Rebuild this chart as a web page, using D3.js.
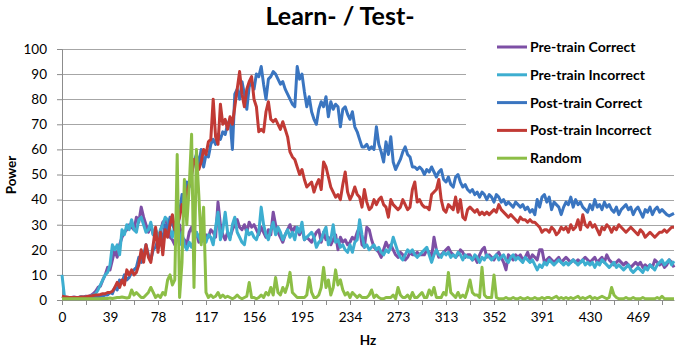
<!DOCTYPE html>
<html>
<head>
<meta charset="utf-8">
<script src="https://cdn.jsdelivr.net/npm/d3@7"></script>
<style>
body { margin: 0; background: #fff; }
svg text { font-family: Lato, "Open Sans", sans-serif; }
</style>
</head>
<body>
<div id="chart"></div>
<script>
// frequency bins (500 Hz / 256 bins), labels every 20 bins
var binCount = 256;
var xTickLabels = ["0", "39", "78", "117", "156", "195", "234", "273", "313", "352", "391", "430", "469"];
var yTickValues = [0, 10, 20, 30, 40, 50, 60, 70, 80, 90, 100];

var seriesNames = ["Pre-train Correct", "Pre-train Incorrect", "Post-train Correct", "Post-train Incorrect", "Random"];
var seriesColors = ["#7D4FA5", "#3DAED0", "#3A75C0", "#C13A35", "#8CBE46"];

var preCorrect = [
	1.5,1.2,1,1,1,1.2,1,1.1,1.3,1.2,
	1.5,1.4,1.8,2.5,3.5,5,5.5,8,10,13,
	12,16,20,17,22,25,27,28,30,29,
	28,33,31,37,33,30,27,30,26,28,
	25,27,31,32,30,25,24,22,25,30,
	25,24,22,27,29,26,27,23,28,24,
	26,25,28,27,25,39,30,26,24,27,
	25,28,30,32,29,28,30,27,31,29,
	30,28,26,29,27,25,28,26,35,30,
	27,25,23,26,28,30,27,29,28,26,
	29,24,25,24,23,25,27,28,23,27,
	24,25,22,24,26,20,25,23,24,22,
	23,25,24,27,29,22,21,29,28,24,
	21,20,19,17,20,23,21,22,20,18,
	17,19,18,16,17,19,18,18,19,18,
	18,18,20,19,17,25,20,17,18,19,
	20,21,19,18,17,18,20,19,17,18,
	18,16,17,15,18,20,21,17,18,17,
	16,18,19,17,15,12,18,17,16,18,
	17,18,16,17,19,16,18,17,16,20,
	20,15,16,17,16,15,16,17,15,16,
	17,16,15,16,15,16,15,16,17,16,
	15,16,17,15,16,17,15,18,16,15,
	14,15,16,15,14,15,14,13,14,15,
	14,15,13,14,13,14,13,16,15,14,
	15,13,14,16,15,13
];

var preIncorrect = [
	10,1.5,1,1,0.8,0.8,1,1,1.2,1,
	1.2,1.3,1.5,2,2.5,4,6,8,10,11,
	14,22,20,22,18,28,26,30,28,32,
	28,27,32,33,30,27,28,31,26,28,
	24,28,30,33,32,28,25,30,26,22,
	27,22,20,23,21,24,27,25,23,24,
	23,26,25,22,29,35,24,28,35,27,
	24,30,33,27,25,23,22,28,26,27,
	25,24,27,37,30,26,24,28,31,26,
	29,27,24,26,28,25,27,24,29,27,
	31,24,25,26,27,25,21,23,24,27,
	29,22,24,30,23,24,21,22,20,19,
	22,19,23,24,32,26,21,22,20,21,
	22,20,21,19,18,20,19,21,25,22,
	19,17,16,18,20,19,20,18,17,18,
	19,20,21,18,15,18,20,18,17,19,
	18,19,17,18,17,19,18,16,18,17,
	17,16,18,17,15,17,16,18,17,16,
	17,18,16,17,18,16,15,17,18,16,
	17,16,15,17,16,15,16,14,12,14,
	13,15,14,16,15,14,15,16,15,14,
	15,14,15,16,15,14,15,16,14,15,
	14,15,13,15,14,16,15,14,13,14,
	15,13,14,13,12,13,14,12,11,12,
	13,12,11,13,12,14,13,12,14,15,
	16,14,15,16,14,15.5
];

var postCorrect = [
	1,1,1,0.8,0.8,1,1,1,1,1,
	1,1,1,1.2,1,1.2,1.5,1.5,2,2,
	3,2.5,5,4,8,7,10,8,9,11,
	12,13,17,15,18,22,18,16,20,21,
	24,22,25,30,27,33,30,28,25,35,
	42,38,47,45,50,55,58,54,60,53,
	58,57,62,64,62,66,64,67,66,70,
	72,60,82,84,80,87,82,76,85,87,
	84,90,89,93,86,80,88,89,91,90,
	88,86,87,84,82,80,78,77,93,88,
	90,83,77,81,75,72,70,76,79,77,
	81,73,79,76,78,77,69,76,77,74,
	72,75,69,67,64,61,61,62,60,61,
	60,69,62,59,55,63,58,65,55,52,
	54,56,59,61,58,57,53,53,52,53,
	52,50,52,51,53,51,49,51,52,48,
	47,49,46,45,49,50,47,45,46,44,
	43,44,42,43,41,43,42,40,42,41,
	39,42,41,39,40,38,39,38,37,39,
	38,37,38,36,37,35,36,34,40,37,
	41,42,39,41,36,39,38,37,34,37,
	39,38,41,37,40,38,39,37,36,35,
	38,36,40,37,38,36,39,37,38,36,
	35,37,34,36,37,38,36,37,34,36,
	37,35,33,36,35,37,34,36,37,35,
	36,35,34,33.5,34,34.5
];

var postIncorrect = [
	1.5,1.3,1.2,1,1,1,1,1,1.2,1.2,
	1.3,1.5,1.5,1.8,2,2,2.2,2.5,2.5,3,
	3,3.5,5,7,5,8,6,12,10,12,
	10,11,14,20,15,22,17,15,22,29,
	19,27,18,28,25,30,34,28,30,33,
	38,36,43,46,50,56,54,52,55,60,
	58,63,64,80,65,62,78,70,72,68,
	73,70,77,84,91,82,77,84,87,89,
	80,77,67,68,67,75,79,72,71,72,
	70,68,71,68,65,59,57,56,53,50,
	52,48,45,46,47,43,46,48,44,55,
	53,49,45,43,41,42,40,46,51,43,
	40,42,45,42,41,37,44,39,36,37,
	40,38,40,41,38,37,33,40,38,37,
	36,37,40,38,36,37,44,47,39,40,
	38,37,37,36,42,43,44,48,40,36,
	35,38,37,36,41,35,40,33,32,36,
	37,36,35,36,34,35,34,35,34,35,
	36,35,38,36,35,34,33,34,33,32,
	31,33,32,32,31,32,31,31,30,29,
	27,28,28,27,29,28,26,27,29,28,
	29,27,30,28,29,32,28,34,30,29,
	31,29,30,28,26,29,28,30,29,27,
	29,28,30,29,28,27,28,29,28,27,
	26,28,27,25,26,27,26,25,26,27,
	27,28,27,28,29,29
];

var random = [
	0.5,0.5,0.5,0.5,0.5,0.5,0.5,0.5,0.5,0.5,
	0.5,0.5,0.5,0.5,0.5,0.5,0.5,0.6,0.6,0.6,
	0.8,0.6,0.8,1,1,1.2,1,0.8,1,4,
	2,3,2,1,1,2,3,5,3,1,
	2,1,3,2,8,10,6,8,58,1,
	15,48,30,45,66,5,60,42,22,37,
	3,1,2,1,1.5,3,1,2,1,1.5,
	1,0.5,1,2,1,0.5,1,1.5,7,1,
	1,0.5,1,2,1,3,2,5,2,9,
	3,2,5,3,6,11,3,2,1,1,
	1,1,2,9,3,1,1,2,5,13,
	5,8,2,5,12,6,8,4,2,3,
	1,3,2,1,2,1,1,1,2,4,
	1,2,1,0.5,0.5,1,1,1,2,0.5,
	5,2,1,1,2,0.5,3,1,1,2,
	3,1,1,4,2,5,1,1,1,3,
	2,11,3,2,1,3,1,2,1,4,
	8,3,2,2,1,13,2,1,1,1,
	10,1,0.5,0.5,0.5,1,0.5,0.5,1,0.5,
	0.5,1,0.5,0.5,1,0.5,0.5,1,0.5,0.5,
	1,0.5,1,1,0.5,1,1.5,0.5,1,0.5,
	1,0.5,1,0.5,1,1.5,0.5,1,0.5,1,
	1.5,0.5,1,0.5,1,1.5,1,0.5,1,5,
	2,1,0.5,0.5,0.5,1,0.5,0.5,1,0.5,
	0.5,0.5,1,0.5,0.5,0.5,0.5,0.5,1,0.5,
	1.5,0.5,0.5,0.5,0.5,0.5
];

var allSeries = [preCorrect, preIncorrect, postCorrect, postIncorrect, random];

var margin = {top: 49, right: 6, bottom: 50, left: 62},
	width = 680 - margin.left - margin.right,
	height = 350 - margin.top - margin.bottom;

var svg = d3.select("#chart")
	.append("svg")
	.attr("width", 680)
	.attr("height", 350);

var g = svg.append("g")
	.attr("transform", "translate(" + margin.left + "," + margin.top + ")");

var xScale = d3.scaleLinear().domain([0, binCount - 1]).range([0, width]);
var yScale = d3.scaleLinear().domain([0, 100]).range([height, 0]);

// gridlines
g.selectAll(".grid")
	.data(yTickValues.slice(1))
	.enter()
	.append("line")
	.attr("x1", 0)
	.attr("x2", width)
	.attr("y1", function(d) { return Math.round(yScale(d)) + 0.5; })
	.attr("y2", function(d) { return Math.round(yScale(d)) + 0.5; })
	.style("stroke", "#A6A6A6")
	.style("stroke-width", 1);

// y axis
var yAxis = g.append("g")
	.call(d3.axisLeft(yScale).tickValues(yTickValues).tickSize(5).tickPadding(10));
yAxis.selectAll("text").style("font-size", "13.5px").style("fill", "#000");
yAxis.selectAll("line, path").style("stroke", "#8C8C8C");

// x axis: ticks every 10 bins, labels every 20
var xAxis = g.append("g")
	.attr("transform", "translate(0," + height + ")")
	.call(d3.axisBottom(xScale)
		.tickValues(d3.range(0, binCount, 10))
		.tickSize(5)
		.tickSizeOuter(0)
		.tickPadding(7)
		.tickFormat(function(d) { return d % 20 === 0 ? xTickLabels[d / 20] : ""; }));
xAxis.selectAll("text").style("font-size", "13.5px").style("fill", "#000");
xAxis.selectAll("line, path").style("stroke", "#8C8C8C");

// lines
var line = d3.line()
	.x(function(d, i) { return xScale(i); })
	.y(function(d) { return yScale(d); });

g.selectAll(".series")
	.data(allSeries)
	.enter()
	.append("path")
	.attr("d", line)
	.style("fill", "none")
	.style("stroke", function(d, i) { return seriesColors[i]; })
	.style("stroke-width", 3)
	.style("stroke-linejoin", "round");

// titles
svg.append("text")
	.attr("x", 340)
	.attr("y", 25)
	.attr("text-anchor", "middle")
	.style("font-size", "25px")
	.style("font-weight", "bold")
	.text("Learn- / Test-");

svg.append("text")
	.attr("transform", "translate(16,175) rotate(-90)")
	.attr("text-anchor", "middle")
	.style("font-size", "13.5px")
	.style("font-weight", "bold")
	.text("Power");

svg.append("text")
	.attr("x", margin.left + width / 2)
	.attr("y", 345)
	.attr("text-anchor", "middle")
	.style("font-size", "13.5px")
	.style("font-weight", "bold")
	.text("Hz");

// legend with white box over the gridlines
var legend = svg.append("g");
legend.append("rect")
	.attr("x", 466)
	.attr("y", 33)
	.attr("width", 214)
	.attr("height", 136)
	.style("fill", "#fff");

var rows = legend.selectAll(".row")
	.data(seriesNames)
	.enter()
	.append("g")
	.attr("transform", function(d, i) { return "translate(497," + (47 + i * 27.8) + ")"; });

rows.append("line")
	.attr("x1", 0)
	.attr("x2", 30)
	.style("stroke", function(d, i) { return seriesColors[i]; })
	.style("stroke-width", 3);

rows.append("text")
	.attr("x", 33)
	.attr("y", 5)
	.style("font-size", "14px")
	.style("font-weight", "bold")
	.text(function(d) { return d; });
</script>
</body>
</html>
